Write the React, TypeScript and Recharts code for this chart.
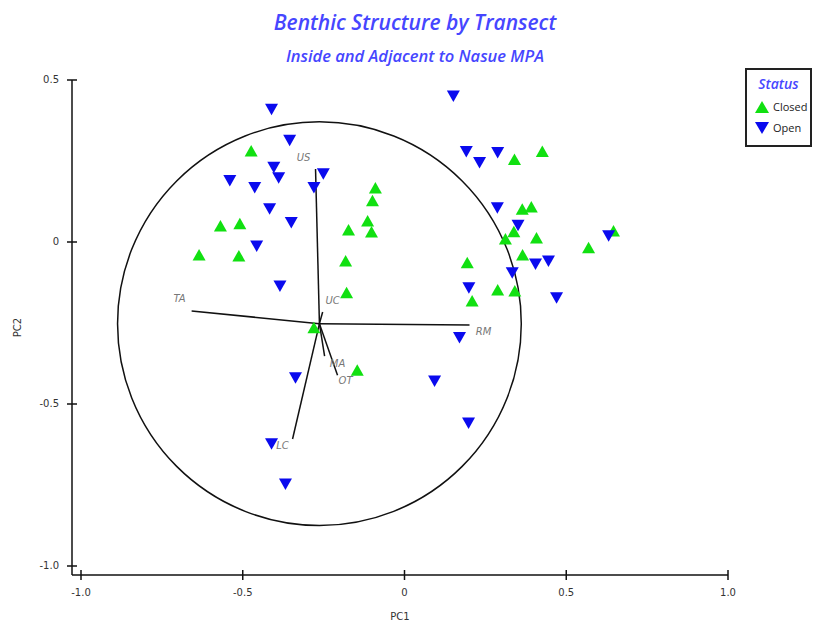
import { ScatterChart, Scatter, XAxis, YAxis, ReferenceLine, ReferenceDot, Legend } from 'recharts'

// PCA scores per transect
const closedPC1 = [-0.474, -0.569, -0.509, -0.635, -0.512, -0.09, -0.099, -0.114, -0.102, -0.173, -0.182, -0.179, -0.28, -0.146, 0.34, 0.426, 0.364, 0.392, 0.338, 0.312, 0.408, 0.569, 0.646, 0.365, 0.194, 0.288, 0.341, 0.209]
const closedPC2 = [0.281, 0.049, 0.056, -0.04, -0.043, 0.167, 0.127, 0.065, 0.031, 0.037, -0.059, -0.157, -0.265, -0.396, 0.255, 0.279, 0.101, 0.108, 0.032, 0.009, 0.012, -0.018, 0.034, -0.04, -0.064, -0.148, -0.151, -0.182]
const openPC1 = [-0.411, -0.355, -0.404, -0.389, -0.54, -0.463, -0.251, -0.28, -0.417, -0.35, -0.457, -0.385, -0.337, -0.411, -0.368, 0.151, 0.191, 0.232, 0.288, 0.287, 0.351, 0.333, 0.405, 0.445, 0.631, 0.199, 0.47, 0.17, 0.093, 0.198]
const openPC2 = [0.41, 0.314, 0.231, 0.198, 0.19, 0.168, 0.211, 0.168, 0.103, 0.06, -0.012, -0.136, -0.419, -0.623, -0.747, 0.451, 0.279, 0.245, 0.276, 0.106, 0.052, -0.095, -0.068, -0.059, 0.019, -0.141, -0.172, -0.295, -0.429, -0.559]

// biplot vectors
const vectorNames = ['US', 'TA', 'RM', 'UC', 'MA', 'OT', 'LC']
const vectorPC1 = [-0.275, -0.658, 0.201, -0.253, -0.247, -0.207, -0.346]
const vectorPC2 = [0.225, -0.213, -0.256, -0.216, -0.352, -0.411, -0.608]
const originPC1 = -0.263
const originPC2 = -0.252
const circleRadius = 0.624

const xTicks = [-1, -0.5, 0, 0.5, 1]
const xTickLabels = ['-1.0', '-0.5', '0', '0.5', '1.0']
const yTicks = [-1, -0.5, 0, 0.5]
const yTickLabels = ['-1.0', '-0.5', '0', '0.5']

const closed = closedPC1.map((x, i) => ({ x, y: closedPC2[i] }))
const open = openPC1.map((x, i) => ({ x, y: openPC2[i] }))
const vectors = vectorNames.map((name, i) => ({ name, x: vectorPC1[i], y: vectorPC2[i] }))

// label nudges for the vector names (px)
const labelOffset: Record<string, [number, number]> = {
  US: [-12, -11], TA: [-12, -12], RM: [14, 7], UC: [10, -11], MA: [13, 8], OT: [8, 6], LC: [-10, 7],
}

const W = 820
const H = 624
const margin = { top: 80, right: 92, bottom: 4, left: 12 }
const pxPerUnit = (W - margin.left - 60 - margin.right - 9) / 2

const GREEN = '#11e011'
const BLUE = '#0a0aee'
const TITLE = '#4646ff'
const tickFont = '"DejaVu Sans", sans-serif'

const UpTri = (props: any) => {
  const { cx, cy } = props
  return <polygon points={`${cx},${cy - 6} ${cx - 6.5},${cy + 5.5} ${cx + 6.5},${cy + 5.5}`} fill={GREEN} />
}
const DownTri = (props: any) => {
  const { cx, cy } = props
  return <polygon points={`${cx - 6.5},${cy - 5.5} ${cx + 6.5},${cy - 5.5} ${cx},${cy + 6}`} fill={BLUE} />
}
const VecLabel = (props: any) => {
  const { cx, cy, payload } = props
  const [dx, dy] = labelOffset[payload.name] || [0, 0]
  return (
    <text x={cx + dx} y={cy + dy} textAnchor="middle" dominantBaseline="middle"
      fontSize={10} fontStyle="italic" fill="#777" fontFamily={tickFont}>
      {payload.name}
    </text>
  )
}

const XTick = (props: any) => {
  const { x, y, payload } = props
  const label = xTickLabels[xTicks.indexOf(payload.value)]
  return (
    <g>
      <line x1={x} x2={x} y1={y - 5} y2={y + 5} stroke="#111" strokeWidth={1.5} />
      <text x={x} y={y + 18} textAnchor="middle" dominantBaseline="middle" fontSize={10} fill="#333" fontFamily={tickFont}>{label}</text>
    </g>
  )
}
const YTick = (props: any) => {
  const { x, y, payload } = props
  const label = yTickLabels[yTicks.indexOf(payload.value)]
  return (
    <g>
      <line x1={x - 5} x2={x + 5} y1={y} y2={y} stroke="#111" strokeWidth={1.5} />
      <text x={x - 13} y={y} textAnchor="end" dominantBaseline="middle" fontSize={10} fill="#333" fontFamily={tickFont}>{label}</text>
    </g>
  )
}

const StatusLegend = () => (
  <div style={{ border: '2px solid #222', width: 67, height: 79, boxSizing: 'border-box', background: '#fff', fontFamily: '"Open Sans", sans-serif' }}>
    <div style={{ color: TITLE, fontStyle: 'italic', fontWeight: 600, fontSize: 14, textAlign: 'center', lineHeight: '18px', marginTop: 5 }}>Status</div>
    <div style={{ display: 'flex', alignItems: 'center', fontSize: 11, color: '#222', marginTop: 6, marginLeft: 7 }}>
      <svg width={16} height={14}><polygon points="8,1 1,13 15,13" fill={GREEN} /></svg>
      <span style={{ marginLeft: 3 }}>Closed</span>
    </div>
    <div style={{ display: 'flex', alignItems: 'center', fontSize: 11, color: '#222', marginTop: 6, marginLeft: 7 }}>
      <svg width={16} height={14}><polygon points="1,1 15,1 8,13" fill={BLUE} /></svg>
      <span style={{ marginLeft: 3 }}>Open</span>
    </div>
  </div>
)

export default function App() {
  return (
    <div style={{ position: 'absolute', left: 0, top: 0, width: W, height: H, background: '#fff' }}>
      <div style={{ position: 'absolute', left: 0, width: W, top: 8, textAlign: 'center', paddingLeft: 10, boxSizing: 'border-box',
        fontFamily: '"Open Sans", sans-serif', fontStyle: 'italic', fontWeight: 600, fontSize: 21, color: TITLE, lineHeight: '28px' }}>
        Benthic Structure by Transect
      </div>
      <div style={{ position: 'absolute', left: 0, width: W, top: 45, textAlign: 'center', paddingLeft: 10, boxSizing: 'border-box',
        fontFamily: '"Open Sans", sans-serif', fontStyle: 'italic', fontWeight: 600, fontSize: 16.5, color: TITLE, lineHeight: '22px' }}>
        Inside and Adjacent to Nasue MPA
      </div>
      <ScatterChart width={W} height={H} margin={margin}>
        <XAxis type="number" dataKey="x" domain={[-1, 1]} ticks={xTicks} padding={{ left: 9, right: 0 }}
          height={45} tickSize={0} tickMargin={0} tickLine={false} tick={<XTick />}
          axisLine={{ stroke: '#111', strokeWidth: 1.5 }}
          label={{ value: 'PC1', position: 'insideBottom', offset: 0, fontSize: 10, fill: '#333', fontFamily: tickFont }} />
        <YAxis type="number" dataKey="y" domain={[-1, 0.5]} ticks={yTicks} padding={{ top: 0, bottom: 9 }}
          width={60} tickSize={0} tickMargin={0} tickLine={false} tick={<YTick />}
          axisLine={{ stroke: '#111', strokeWidth: 1.5 }}
          label={{ value: 'PC2', angle: -90, position: 'insideLeft', offset: 5, fontSize: 10, fill: '#333', fontFamily: tickFont, style: { textAnchor: 'middle' } }} />
        <ReferenceDot x={originPC1} y={originPC2} r={circleRadius * pxPerUnit} fill="none"
          stroke="#111" strokeWidth={1.5} ifOverflow="visible" />
        {vectors.map(v => (
          <ReferenceLine key={v.name} segment={[{ x: originPC1, y: originPC2 }, { x: v.x, y: v.y }]}
            stroke="#111" strokeWidth={1.5} />
        ))}
        <Scatter name="vectors" data={vectors} shape={<VecLabel />} legendType="none" isAnimationActive={false} />
        <Scatter name="Closed" data={closed} shape={<UpTri />} isAnimationActive={false} />
        <Scatter name="Open" data={open} shape={<DownTri />} isAnimationActive={false} />
        <Legend layout="horizontal" verticalAlign="middle" align="center" content={<StatusLegend />}
          wrapperStyle={{ position: 'absolute', left: 745, top: 68, width: 67, height: 79 }} />
      </ScatterChart>
    </div>
  )
}
